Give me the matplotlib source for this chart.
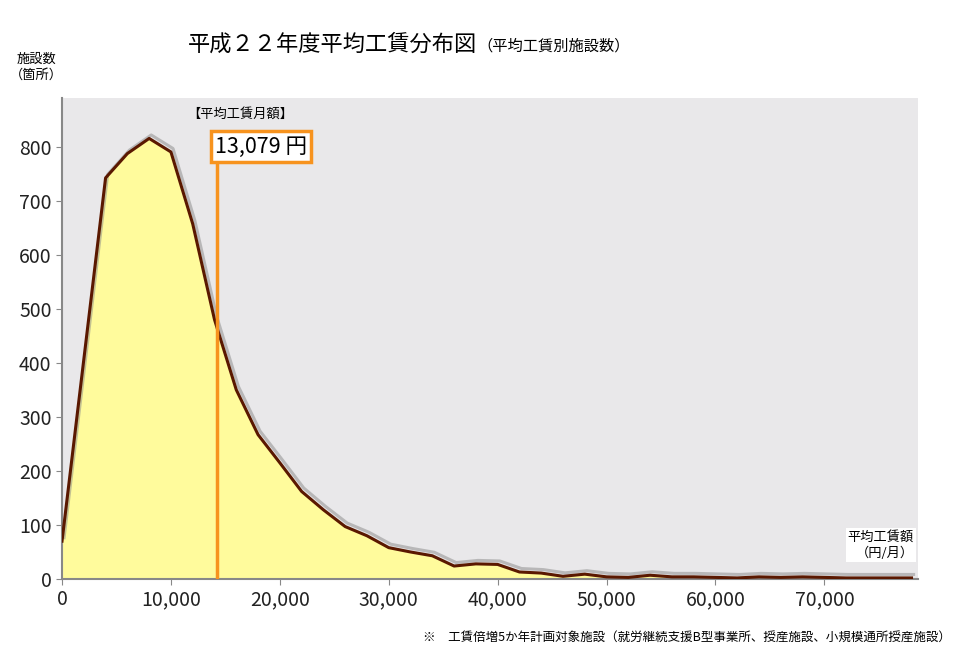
import matplotlib

matplotlib.use("Agg")
import matplotlib.pyplot as plt
import matplotlib.patheffects as pe

plt.rcParams["font.family"] = ["Noto Sans CJK JP", "DejaVu Sans"]

# average monthly wage (yen) vs number of facilities
wage = [0, 2000, 4000, 6000, 8000, 10000, 12000, 14000, 16000, 18000, 20000,
        22000, 24000, 26000, 28000, 30000, 32000, 34000, 36000, 38000, 40000,
        42000, 44000, 46000, 48000, 50000, 52000, 54000, 56000, 58000, 60000,
        62000, 64000, 66000, 68000, 70000, 72000, 74000, 76000, 78000]
count = [70, 406, 742, 787, 815, 790, 657, 480, 350, 267, 215,
         162, 128, 97, 80, 58, 50, 43, 24, 28, 27,
         13, 11, 5, 9, 4, 3, 7, 4, 4, 3,
         2, 4, 3, 4, 3, 2, 2, 2, 2]
avg_pos = 14200
avg_label = "13,079 円"
xticks = [0, 10000, 20000, 30000, 40000, 50000, 60000, 70000]
yticks = [0, 100, 200, 300, 400, 500, 600, 700, 800]

fig = plt.figure(figsize=(9.6, 6.57), dpi=100)
ax = fig.add_axes([0.0646, 0.1187, 0.8917, 0.7323])
ax.set_facecolor("#e9e8ea")

ax.fill_between(wage, count, 0, color="#fffb9c", zorder=2)
ax.plot(wage, count, color="#5a1800", lw=2.2, zorder=3,
        path_effects=[pe.SimpleLineShadow(offset=(1.5, 2.5), shadow_color="#888888", alpha=0.5),
                      pe.Normal()])

ax.axvline(avg_pos, ymax=0.87, color="#f7931e", lw=2.5, zorder=4)
ax.text(avg_pos - 150, 800, avg_label, ha="left", va="center", fontsize=15.5, zorder=5,
        bbox=dict(boxstyle="square,pad=0.2", fc="white", ec="#f7931e", lw=2.5))
ax.text(16400, 860, "【平均工賃月額】", ha="center", va="center", fontsize=9.5, zorder=5)

ax.set_xlim(0, 78600)
ax.set_ylim(0, 890)
ax.set_xticks(xticks)
ax.set_xticklabels([f"{v:,}" for v in xticks])
ax.set_yticks(yticks)
ax.tick_params(labelsize=14, colors="#222222", length=4, color="#888888")
for s in ("top", "right"):
    ax.spines[s].set_visible(False)
for s in ("left", "bottom"):
    ax.spines[s].set_color("#888888")
    ax.spines[s].set_linewidth(1.5)

ax.text(0.995, 0.04, "平均工賃額\n（円/月）", transform=ax.transAxes, ha="right", va="bottom",
        fontsize=9.5, linespacing=1.3, zorder=6,
        bbox=dict(boxstyle="square,pad=0.15", fc="white", ec="none"))

fig.text(0.196, 0.932, "平成２２年度平均工賃分布図", fontsize=16, va="center", ha="left")
fig.text(0.497, 0.930, "（平均工賃別施設数）", fontsize=11, va="center", ha="left")
fig.text(0.038, 0.898, "施設数\n（箇所）", fontsize=9.5, va="center", ha="center", linespacing=1.3)
fig.text(0.99, 0.03, "※　工賃倍増5か年計画対象施設（就労継続支援B型事業所、授産施設、小規模通所授産施設）",
         fontsize=9, ha="right", va="center")

fig.savefig("out.png", dpi=100, facecolor="white")
